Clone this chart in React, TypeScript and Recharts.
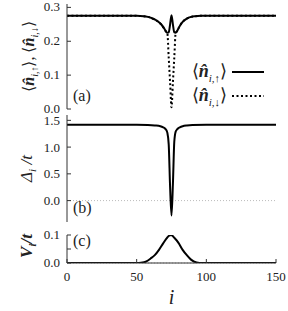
import React from "react";
import { LineChart, Line, XAxis, YAxis, ReferenceLine } from "recharts";

// ---------- data ----------
const xTicks = [0, 50, 100, 150];

// panel (a)
const iA = [0, 40, 50, 55, 58, 61, 64, 66, 68, 70, 71, 72, 73, 74, 75, 76, 77, 78, 79, 80, 82, 84, 86, 89, 92, 96, 100, 110, 150];
const nUp = [0.275, 0.275, 0.275, 0.274, 0.272, 0.268, 0.262, 0.256, 0.248, 0.236, 0.229, 0.225, 0.226, 0.25, 0.277, 0.25, 0.226, 0.225, 0.23, 0.238, 0.252, 0.261, 0.267, 0.272, 0.274, 0.275, 0.275, 0.275, 0.275];
const nDown = [0.275, 0.275, 0.275, 0.274, 0.272, 0.268, 0.262, 0.256, 0.248, 0.236, 0.229, 0.225, 0.152, 0.078, 0.005, 0.078, 0.152, 0.225, 0.23, 0.238, 0.252, 0.261, 0.267, 0.272, 0.274, 0.275, 0.275, 0.275, 0.275];
const yTicksA = [0, 0.1, 0.2, 0.3];

// panel (b)
const iB = [0, 50, 58, 63, 67, 69, 70, 71, 72, 73, 74, 75, 76, 77, 78, 79, 80, 81, 83, 86, 90, 100, 150];
const delta = [1.42, 1.42, 1.415, 1.405, 1.39, 1.37, 1.355, 1.33, 1.27, 1.05, 0.25, -0.28, 0.3, 1.1, 1.29, 1.33, 1.355, 1.37, 1.39, 1.405, 1.415, 1.42, 1.42];
const yTicksB = [0, 0.5, 1.0, 1.5];

// panel (c)
const iC = [0, 50, 53, 57, 60, 63, 66, 69, 72, 74, 75, 77, 80, 83, 86, 89, 93, 97, 100, 150];
const pot = [0, 0, 0.001, 0.006, 0.016, 0.028, 0.047, 0.07, 0.091, 0.099, 0.099, 0.09, 0.072, 0.047, 0.028, 0.012, 0.002, 0, 0, 0];
const yTicksC = [0, 0.05, 0.1];
const yLabelsC = [0, 0.1];

const rowsA = iA.map((i, k) => ({ i, up: nUp[k], down: nDown[k] }));
const rowsB = iB.map((i, k) => ({ i, d: delta[k] }));
const rowsC = iC.map((i, k) => ({ i, v: pot[k] }));

// ---------- styles ----------
const FONT = "Liberation Serif";
const FRAME = "#333";
const TXT = "#222";
const TM = 7; // y tick label margin
const TMX = 9; // x tick label margin
const TICK = 4;
const W = 288;

const leftTick = (labels: number[] | null, dy: string) => (props: any) => {
  const { x, y, payload } = props;
  const px = x + TM;
  const show = labels === null || labels.some((l) => Math.abs(l - payload.value) < 1e-9);
  return (
    <g>
      <line x1={px} x2={px + TICK} y1={y} y2={y} stroke={FRAME} strokeWidth={1} />
      {show && (
        <text x={x} y={y} dy={dy} textAnchor="end" fontSize={13} fontFamily={FONT} fill={TXT}>
          {Number(payload.value).toFixed(1)}
        </text>
      )}
    </g>
  );
};

const rightTick = (props: any) => {
  const { x, y } = props;
  return <line x1={x - TICK} x2={x} y1={y} y2={y} stroke={FRAME} strokeWidth={1} />;
};

const topTick = (props: any) => {
  const { x, y } = props;
  return <line x1={x} x2={x} y1={y} y2={y + TICK} stroke={FRAME} strokeWidth={1} />;
};

const bottomTickPlain = (props: any) => {
  const { x, y } = props;
  return <line x1={x} x2={x} y1={y - TICK} y2={y} stroke={FRAME} strokeWidth={1} />;
};

const bottomTickLabel = (props: any) => {
  const { x, y, payload } = props;
  const py = y - TMX;
  return (
    <g>
      <line x1={x} x2={x} y1={py - TICK} y2={py} stroke={FRAME} strokeWidth={1} />
      <text x={x} y={y} dy="0.71em" textAnchor="middle" fontSize={13} fontFamily={FONT} fill={TXT}>
        {payload.value}
      </text>
    </g>
  );
};

const YLabelA = (props: any) => {
  const vb = props.viewBox || { x: 0, y: 4, width: 67, height: 105 };
  const cx = vb.x + 28;
  const cy = vb.y + vb.height / 2;
  return (
    <text
      x={cx}
      y={cy}
      dy="0.35em"
      transform={`rotate(-90 ${cx} ${cy})`}
      textAnchor="middle"
      fontSize={16}
      fontFamily={FONT}
      fill={TXT}
    >
      ⟨<tspan fontStyle="italic" fontWeight="bold">n̂</tspan>
      <tspan fontSize={10} dy={4} fontStyle="italic">i,↑</tspan>
      <tspan dy={-4}>⟩, ⟨</tspan>
      <tspan fontStyle="italic" fontWeight="bold">n̂</tspan>
      <tspan fontSize={10} dy={4} fontStyle="italic">i,↓</tspan>
      <tspan dy={-4}>⟩</tspan>
    </text>
  );
};

const YLabelB = (props: any) => {
  const vb = props.viewBox || { x: 0, y: 115, width: 67, height: 107 };
  const cx = vb.x + 26;
  const cy = vb.y + vb.height / 2;
  return (
    <text
      x={cx}
      y={cy}
      dy="0.35em"
      transform={`rotate(-90 ${cx} ${cy})`}
      textAnchor="middle"
      fontSize={17}
      fontFamily={FONT}
      fontStyle="italic"
      fill={TXT}
    >
      Δ<tspan fontSize={11} dy={4}>i</tspan>
      <tspan dy={-4}> /t</tspan>
    </text>
  );
};

const YLabelC = (props: any) => {
  const vb = props.viewBox || { x: 0, y: 235, width: 67, height: 28 };
  const cx = vb.x + 26;
  const cy = vb.y + vb.height / 2 - 3;
  return (
    <text
      x={cx}
      y={cy}
      dy="0.35em"
      transform={`rotate(-90 ${cx} ${cy})`}
      textAnchor="middle"
      fontSize={17}
      fontFamily={FONT}
      fontStyle="italic"
      fontWeight="bold"
      fill={TXT}
    >
      V<tspan fontSize={11} dy={4}>i</tspan>
      <tspan dy={-4}>/t</tspan>
    </text>
  );
};

const XLabelC = (props: any) => {
  const vb = props.viewBox || { x: 67, y: 263, width: 209, height: 48 };
  return (
    <text
      x={vb.x + vb.width / 2}
      y={vb.y + 41}
      textAnchor="middle"
      fontSize={20}
      fontFamily={FONT}
      fontStyle="italic"
      fill={TXT}
    >
      i
    </text>
  );
};

const panelLabel = (text: string, left: number, top: number) => (
  <div
    style={{
      position: "absolute",
      left,
      top,
      fontFamily: FONT,
      fontSize: 16,
      lineHeight: "16px",
      color: TXT,
    }}
  >
    {text}
  </div>
);

const LegendRow = ({ arrow, dashed }: { arrow: string; dashed: boolean }) => (
  <div style={{ display: "flex", alignItems: "center", justifyContent: "flex-end", height: 24 }}>
    <span style={{ fontFamily: FONT, fontSize: 18, color: TXT, whiteSpace: "nowrap" }}>
      ⟨<i style={{ fontWeight: "bold" }}>n̂</i>
      <sub style={{ fontSize: 11, fontStyle: "italic" }}>i,{arrow}</sub>⟩
    </span>
    <svg width={32} height={6} style={{ marginLeft: 5 }}>
      <line x1={0} x2={32} y1={3} y2={3} stroke="#000" strokeWidth={2} strokeDasharray={dashed ? "2 2.5" : undefined} />
    </svg>
  </div>
);

export default function App() {
  return (
    <div style={{ position: "absolute", left: 0, top: 0, width: W, height: 311, background: "#fff", fontFamily: FONT }}>
      {/* panel (a) */}
      <div style={{ position: "absolute", left: 0, top: 0 }}>
        <LineChart width={W} height={118} data={rowsA} margin={{ top: 4, right: 12, bottom: 9, left: 0 }}>
          <XAxis xAxisId="b" dataKey="i" type="number" domain={[0, 150]} ticks={xTicks} interval={0} orientation="bottom" height={0} tickSize={0} tickMargin={0} tick={bottomTickPlain} axisLine={{ stroke: FRAME }} tickLine={false} allowDataOverflow />
          <XAxis xAxisId="t" type="number" domain={[0, 150]} ticks={xTicks} interval={0} orientation="top" height={0} tickSize={0} tickMargin={0} tick={topTick} axisLine={{ stroke: FRAME }} tickLine={false} allowDataOverflow />
          <YAxis yAxisId="l" type="number" domain={[0, 0.31]} ticks={yTicksA} interval={0} width={67} tickSize={0} tickMargin={TM} tick={leftTick(null, "0.3em")} axisLine={{ stroke: FRAME }} tickLine={false} allowDataOverflow label={<YLabelA />} />
          <YAxis yAxisId="r" orientation="right" type="number" domain={[0, 0.31]} ticks={yTicksA} interval={0} width={0} tickSize={0} tickMargin={0} tick={rightTick} axisLine={{ stroke: FRAME }} tickLine={false} allowDataOverflow />
          <Line xAxisId="b" yAxisId="l" type="monotone" dataKey="down" stroke="#000" strokeWidth={2} strokeDasharray="2 2.5" dot={false} isAnimationActive={false} />
          <Line xAxisId="b" yAxisId="l" type="monotone" dataKey="up" stroke="#000" strokeWidth={2} dot={false} isAnimationActive={false} />
        </LineChart>
      </div>

      {/* panel (b) */}
      <div style={{ position: "absolute", left: 0, top: 109 }}>
        <LineChart width={W} height={119} data={rowsB} margin={{ top: 6, right: 12, bottom: 6, left: 0 }}>
          <XAxis xAxisId="b" dataKey="i" type="number" domain={[0, 150]} ticks={xTicks} interval={0} orientation="bottom" height={0} tickSize={0} tickMargin={0} tick={bottomTickPlain} axisLine={{ stroke: FRAME }} tickLine={false} allowDataOverflow />
          <XAxis xAxisId="t" type="number" domain={[0, 150]} ticks={xTicks} interval={0} orientation="top" height={0} tickSize={0} tickMargin={0} tick={topTick} axisLine={{ stroke: FRAME }} tickLine={false} allowDataOverflow />
          <YAxis yAxisId="l" type="number" domain={[-0.4, 1.6]} ticks={yTicksB} interval={0} width={67} tickSize={0} tickMargin={TM} tick={leftTick(null, "0.35em")} axisLine={{ stroke: FRAME }} tickLine={false} allowDataOverflow label={<YLabelB />} />
          <YAxis yAxisId="r" orientation="right" type="number" domain={[-0.4, 1.6]} ticks={yTicksB} interval={0} width={0} tickSize={0} tickMargin={0} tick={rightTick} axisLine={{ stroke: FRAME }} tickLine={false} allowDataOverflow />
          <ReferenceLine xAxisId="b" yAxisId="l" y={0} stroke="#bbb" strokeWidth={1} strokeDasharray="1 2" />
          <Line xAxisId="b" yAxisId="l" type="monotone" dataKey="d" stroke="#000" strokeWidth={2} dot={false} isAnimationActive={false} />
        </LineChart>
      </div>

      {/* panel (c) */}
      <div style={{ position: "absolute", left: 0, top: 225 }}>
        <LineChart width={W} height={86} data={rowsC} margin={{ top: 10, right: 12, bottom: 0, left: 0 }}>
          <XAxis xAxisId="b" dataKey="i" type="number" domain={[0, 150]} ticks={xTicks} interval={0} orientation="bottom" height={48} tickSize={0} tickMargin={TMX} tick={bottomTickLabel} axisLine={{ stroke: FRAME }} tickLine={false} allowDataOverflow label={<XLabelC />} />
          <XAxis xAxisId="t" type="number" domain={[0, 150]} ticks={xTicks} interval={0} orientation="top" height={0} tickSize={0} tickMargin={0} tick={topTick} axisLine={{ stroke: FRAME }} tickLine={false} allowDataOverflow />
          <YAxis yAxisId="l" type="number" domain={[0, 0.1]} ticks={yTicksC} interval={0} width={67} tickSize={0} tickMargin={TM} tick={leftTick(yLabelsC, "0.3em")} axisLine={{ stroke: FRAME }} tickLine={false} allowDataOverflow label={<YLabelC />} />
          <YAxis yAxisId="r" orientation="right" type="number" domain={[0, 0.1]} ticks={yTicksC} interval={0} width={0} tickSize={0} tickMargin={0} tick={rightTick} axisLine={{ stroke: FRAME }} tickLine={false} allowDataOverflow />
          <ReferenceLine xAxisId="b" yAxisId="l" y={0} stroke="#bbb" strokeWidth={1} strokeDasharray="1 2" />
          <Line xAxisId="b" yAxisId="l" type="monotone" dataKey="v" stroke="#000" strokeWidth={2} dot={false} isAnimationActive={false} />
        </LineChart>
      </div>

      {/* panel labels */}
      {panelLabel("(a)", 73, 88)}
      {panelLabel("(b)", 73, 200)}
      {panelLabel("(c)", 73, 233)}

      {/* legend */}
      <div style={{ position: "absolute", left: 160, top: 60, width: 104 }}>
        <LegendRow arrow="↑" dashed={false} />
        <LegendRow arrow="↓" dashed={true} />
      </div>
    </div>
  );
}
